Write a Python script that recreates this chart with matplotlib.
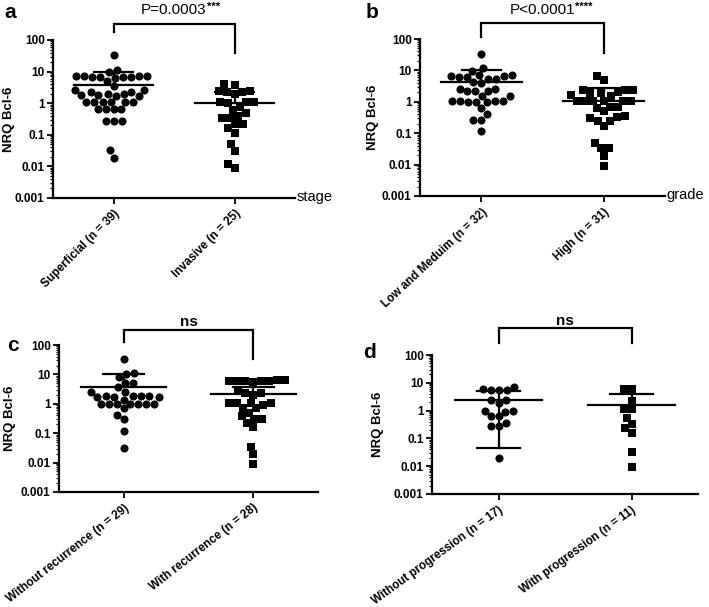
import numpy as np
import matplotlib
matplotlib.use('Agg')
import matplotlib.pyplot as plt
from matplotlib.ticker import LogLocator, NullFormatter

plt.rcParams['font.family'] = ['Liberation Sans', 'DejaVu Sans']

# NRQ Bcl-6 values, one list per group
a_labels = ['Superficial (n = 39)', 'Invasive (n = 25)']
a_sup = [33, 11.5, 10, 7.2, 7.0, 6.9, 6.7, 6.5, 6.6, 6.8, 7.0, 7.2, 5.2, 3.6,
         2.6, 2.3, 2.0, 1.8, 1.7, 1.7, 1.8, 2.0, 2.3, 2.6,
         1.1, 1.1, 1.1, 1.1, 1.1, 1.1, 0.66, 0.64, 0.64, 0.66,
         0.28, 0.28, 0.28, 0.032, 0.019]
a_inv = [4.0, 3.8, 2.4, 2.3, 2.3, 2.4, 1.9, 1.1, 1.1, 1.0, 1.1, 0.75, 0.62,
         0.48, 0.35, 0.35, 0.4, 0.22, 0.22, 0.16, 0.11, 0.05, 0.03, 0.012, 0.009]
a_mean = [3.8, 1.0]
a_sd_hi = [9.5, 2.2]
a_sd_lo = [None, None]

b_labels = ['Low and Meduim (n = 32)', 'High (n = 31)']
b_low = [33, 11.5, 9.6, 7.0, 6.5, 6.0, 5.5, 5.5, 6.0, 6.5, 7.0, 4.2, 4.0,
         2.6, 2.6, 2.2, 2.2, 2.2, 1.5, 1.5, 1.1, 1.1, 1.0, 1.0, 1.1, 1.1,
         0.95, 0.65, 0.42, 0.27, 0.27, 0.12]
b_high = [6.5, 5.0, 2.4, 2.4, 2.4, 2.0, 1.9, 1.9, 1.6, 1.5,
          1.1, 1.1, 1.1, 1.1, 1.1, 1.1, 0.7, 0.65, 0.7, 0.5,
          0.35, 0.33, 0.3, 0.25, 0.25, 0.17, 0.048, 0.033, 0.033, 0.019, 0.009]
b_mean = [4.2, 1.1]
b_sd_hi = [10, 2.7]
b_sd_lo = [None, None]

c_labels = ['Without recurrence (n = 29)', 'With recurrence (n = 28)']
c_without = [33, 11.5, 10.5, 8.0, 5.3, 5.3, 3.7, 2.6, 2.6,
             1.9, 1.8, 1.7, 1.7, 1.7, 1.8, 1.9, 1.4,
             1.0, 1.0, 1.0, 0.95, 1.0, 1.0, 1.0, 0.7, 0.42, 0.3, 0.12, 0.032]
c_with = [6.5, 6.2, 6.0, 5.8, 5.6, 5.8, 6.0, 6.3, 2.8, 2.3, 2.3, 2.0,
          1.1, 1.1, 1.1, 1.1, 0.9, 0.7, 0.7, 0.5, 0.37, 0.3, 0.3, 0.23,
          0.16, 0.035, 0.019, 0.009]
c_mean = [3.7, 2.1]
c_sd_hi = [10.5, 3.7]
c_sd_lo = [None, None]

d_labels = ['Without progression (n = 17)', 'With progression (n = 11)']
d_without = [6.8, 5.6, 5.6, 5.6, 5.8, 2.5, 2.5, 1.9, 1.0, 0.9, 1.0,
             0.63, 0.63, 0.29, 0.29, 0.35, 0.019]
d_with = [5.8, 5.8, 2.3, 1.1, 1.1, 0.52, 0.32, 0.24, 0.16, 0.032, 0.0097]
d_mean = [2.5, 1.6]
d_sd_hi = [5.0, 3.9]
d_sd_lo = [0.044, None]

yticks = [0.001, 0.01, 0.1, 1, 10, 100]
ytick_labels = ['0.001', '0.01', '0.1', '1', '10', '100']

W, H = 709, 607
fig = plt.figure(figsize=(W / 100, H / 100), dpi=100)


def px_axes(l, t, r, b):
    return fig.add_axes([l / W, 1 - b / H, (r - l) / W, (b - t) / H])


def swarm(ax, xpos, vals, diam):
    # simple beeswarm in pixel space so the markers do not overlap
    vals = np.asarray(vals, float)
    ypix = ax.transData.transform(np.column_stack([np.full(len(vals), xpos), vals]))[:, 1]
    order = np.argsort(ypix, kind='stable')
    placed = []
    off = np.zeros(len(vals))
    for i in order:
        y = ypix[i]
        cands = [0.0]
        for px, py in placed:
            dy = y - py
            if abs(dy) < diam:
                dx = np.sqrt(diam ** 2 - dy ** 2)
                cands += [px + dx, px - dx]
        cands.sort(key=lambda c: (abs(c), c))
        for c in cands:
            if all((c - px) ** 2 + (y - py) ** 2 >= diam ** 2 - 1e-6 for px, py in placed):
                off[i] = c
                break
        placed.append((off[i], y))
    x0 = ax.transData.transform((xpos, 1))[0]
    return ax.transData.inverted().transform(np.column_stack([x0 + off, ypix]))[:, 0]


def panel(box, groups, labels, means, sd_hi, sd_lo, bracket, ptext, stars, xname,
          rot, label_x):
    l, t_, r, b = box
    ax = px_axes(*box)
    ax.set_yscale('log')
    ax.set_ylim(0.001, 100)
    ax.set_xlim(-0.5, 1.5)
    for s in ['top', 'right']:
        ax.spines[s].set_visible(False)
    for s in ['left', 'bottom']:
        ax.spines[s].set_linewidth(1.6)
    ax.set_yticks(yticks)
    ax.set_yticklabels(ytick_labels, fontweight='bold', fontsize=8.5)
    ax.yaxis.set_minor_locator(LogLocator(base=10, subs=np.arange(2, 10), numticks=20))
    ax.yaxis.set_minor_formatter(NullFormatter())
    ax.tick_params(axis='y', which='major', length=4, width=1.3, pad=2)
    ax.tick_params(axis='y', which='minor', length=2, width=0.9)
    ax.set_xticks([0, 1])
    ax.set_xticklabels(labels, rotation=rot, ha='right', rotation_mode='anchor',
                       fontweight='bold', fontsize=8.4)
    ax.tick_params(axis='x', length=4, width=1.3, pad=3)
    ax.set_ylabel('NRQ Bcl-6', fontweight='bold', fontsize=9.5)
    ax.yaxis.set_label_coords((label_x + 6 - l) / (r - l), 0.5)

    markers = ['o', 's']
    sizes = [34, 26]
    for i, vals in enumerate(groups):
        xs = swarm(ax, i, vals, 8.0)
        ax.scatter(xs, vals, s=sizes[i], marker=markers[i], c='black',
                   linewidths=0, zorder=3, clip_on=False)
        lo = sd_lo[i] if sd_lo[i] is not None else means[i]
        ax.plot([i - 0.33, i + 0.33], [means[i], means[i]], color='black', lw=1.6, zorder=4)
        ax.plot([i, i], [lo, sd_hi[i]], color='black', lw=1.6, zorder=4)
        ax.plot([i - 0.16, i + 0.16], [sd_hi[i], sd_hi[i]], color='black', lw=1.6, zorder=4)
        if sd_lo[i] is not None:
            ax.plot([i - 0.16, i + 0.16], [sd_lo[i], sd_lo[i]], color='black', lw=1.6, zorder=4)

    top, left_end, right_end, text_y = bracket
    ax.plot([0, 0, 1, 1], [left_end, top, top, right_end], color='black', lw=1.6,
            clip_on=False, solid_joinstyle='miter')
    t = ax.text(0.5, text_y, ptext, ha='center', va='center', fontsize=11,
                fontweight='bold' if ptext == 'ns' else 'normal')
    if stars:
        ax.annotate(stars, xy=(1.0, 1.08), xycoords=t, ha='left', va='top',
                    fontsize=8, fontweight='bold')
    if xname:
        ax.annotate(xname, xy=(1, 0), xycoords='axes fraction', xytext=(1, 1),
                    textcoords='offset points', ha='left', va='center', fontsize=10.5)
    return ax


panel((53, 40, 295, 198), [a_sup, a_inv], a_labels, a_mean, a_sd_hi, a_sd_lo,
      (325, 178, 39, 900), 'P=0.0003', '***', 'stage', 45, 9)
panel((420, 39, 665, 196), [b_low, b_high], b_labels, b_mean, b_sd_hi, b_sd_lo,
      (325, 116, 35, 830), 'P<0.0001', '****', 'grade', 43, 373)
panel((59, 345, 318, 492), [c_without, c_with], c_labels, c_mean, c_sd_hi, c_sd_lo,
      (325, 126, 33, 600), 'ns', '', '', 38, 10)
panel((432, 355, 698, 494), [d_without, d_with], d_labels, d_mean, d_sd_hi, d_sd_lo,
      (930, 270, 270, 1650), 'ns', '', '', 36, 378)

for letter, x, y in [('a', 10, 13), ('b', 372, 13), ('c', 13, 345), ('d', 370, 353)]:
    fig.text(x / W, 1 - y / H, letter, ha='center', va='center', fontsize=15, fontweight='bold')

fig.savefig('out.png', dpi=100)
